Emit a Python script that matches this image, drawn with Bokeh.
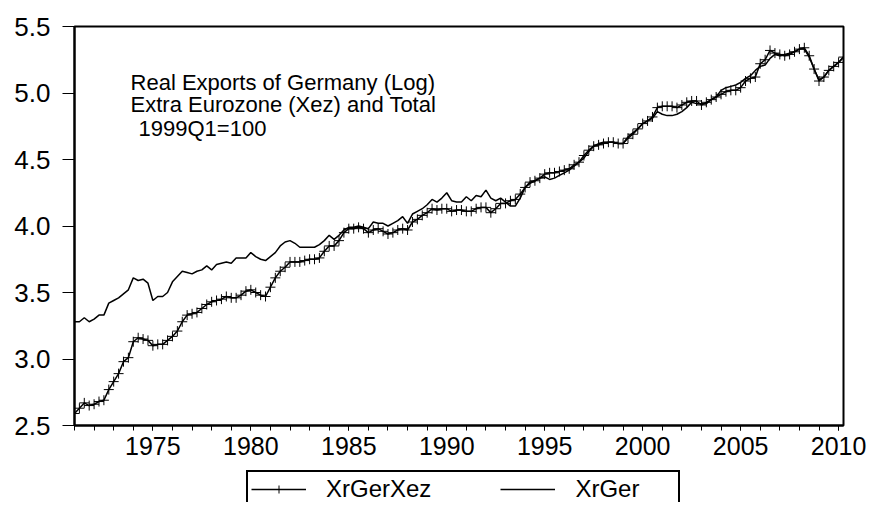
import numpy as np
from bokeh.plotting import figure
from bokeh.layouts import column
from bokeh.models import (Range1d, FixedTicker, Legend, LegendItem, Label,
                          NumeralTickFormatter, ColumnDataSource)
from bokeh.embed import file_html
from bokeh.resources import INLINE

# ---- data (quarterly, 1971Q1 .. 2010Q2) ----
start_year = 1971
quarters_per_year = 4

xr_ger_xez = [
    2.59, 2.63, 2.67, 2.65, 2.66, 2.68, 2.69, 2.77, 2.83, 2.89,
    2.98, 3.01, 3.13, 3.16, 3.15, 3.14, 3.10, 3.11, 3.11, 3.14,
    3.17, 3.21, 3.28, 3.33, 3.34, 3.35, 3.38, 3.41, 3.43, 3.44,
    3.45, 3.47, 3.46, 3.46, 3.48, 3.51, 3.52, 3.50, 3.48, 3.47,
    3.54, 3.61, 3.66, 3.69, 3.73, 3.73, 3.73, 3.74, 3.75, 3.75,
    3.76, 3.81, 3.85, 3.85, 3.89, 3.95, 3.98, 3.98, 3.99, 3.98,
    3.95, 3.97, 3.98, 3.96, 3.94, 3.95, 3.97, 3.98, 3.97, 4.03,
    4.05, 4.08, 4.10, 4.13, 4.12, 4.13, 4.13, 4.11, 4.12, 4.12,
    4.11, 4.11, 4.13, 4.14, 4.14, 4.10, 4.13, 4.17, 4.17, 4.19,
    4.20, 4.24, 4.29, 4.33, 4.34, 4.36, 4.39, 4.40, 4.40, 4.41,
    4.42, 4.43, 4.46, 4.48, 4.53, 4.57, 4.60, 4.61, 4.62, 4.63,
    4.63, 4.62, 4.62, 4.66, 4.69, 4.73, 4.77, 4.79, 4.82, 4.89,
    4.90, 4.90, 4.90, 4.89, 4.91, 4.93, 4.94, 4.94, 4.91, 4.93,
    4.95, 4.97, 4.99, 5.01, 5.02, 5.02, 5.04, 5.09, 5.11, 5.12,
    5.22, 5.25, 5.32, 5.30, 5.29, 5.28, 5.29, 5.31, 5.33, 5.34,
    5.28, 5.18, 5.09, 5.12, 5.17, 5.20, 5.23, 5.27,
]

xr_ger = [
    3.28, 3.28, 3.31, 3.28, 3.30, 3.33, 3.33, 3.42, 3.44, 3.46,
    3.49, 3.52, 3.61, 3.59, 3.60, 3.57, 3.44, 3.47, 3.47, 3.50,
    3.58, 3.62, 3.66, 3.65, 3.64, 3.66, 3.67, 3.70, 3.67, 3.71,
    3.72, 3.73, 3.72, 3.76, 3.76, 3.76, 3.80, 3.77, 3.75, 3.74,
    3.77, 3.80, 3.85, 3.88, 3.89, 3.87, 3.84, 3.84, 3.84, 3.84,
    3.86, 3.89, 3.93, 3.90, 3.93, 3.97, 3.99, 3.99, 4.00, 3.99,
    3.98, 4.03, 4.02, 4.02, 4.00, 4.02, 4.04, 4.07, 4.02, 4.09,
    4.11, 4.13, 4.16, 4.20, 4.18, 4.21, 4.25, 4.19, 4.18, 4.18,
    4.22, 4.19, 4.23, 4.22, 4.27, 4.21, 4.19, 4.21, 4.18, 4.15,
    4.15, 4.21, 4.29, 4.32, 4.34, 4.36, 4.37, 4.35, 4.36, 4.38,
    4.40, 4.42, 4.45, 4.48, 4.51, 4.56, 4.60, 4.62, 4.63, 4.63,
    4.63, 4.62, 4.62, 4.67, 4.70, 4.73, 4.77, 4.79, 4.81, 4.86,
    4.84, 4.83, 4.83, 4.84, 4.86, 4.89, 4.93, 4.92, 4.92, 4.92,
    4.95, 4.97, 5.02, 5.04, 5.05, 5.06, 5.08, 5.11, 5.13, 5.17,
    5.20, 5.21, 5.26, 5.29, 5.28, 5.29, 5.30, 5.31, 5.33, 5.33,
    5.27, 5.18, 5.10, 5.12, 5.17, 5.20, 5.23, 5.27,
]

x_major_ticks = [1975, 1980, 1985, 1990, 1995, 2000, 2005, 2010]
x_minor_ticks = list(range(1971, 2011))
y_ticks = [2.5, 3.0, 3.5, 4.0, 4.5, 5.0, 5.5]
series_names = ["XrGerXez", "XrGer"]
title_lines = ["Real Exports of Germany (Log)",
               "Extra Eurozone (Xez) and Total",
               "1999Q1=100"]

t = start_year + np.arange(len(xr_ger)) / quarters_per_year
src = ColumnDataSource(dict(t=t, xez=xr_ger_xez, ger=xr_ger))

FONT = "Liberation Sans"

p = figure(width=867, height=470, output_backend="svg", toolbar_location=None,
           x_range=Range1d(1971, 2010.25), y_range=Range1d(2.5, 5.5),
           min_border_left=74, min_border_right=24, min_border_top=26,
           min_border_bottom=45)
p.background_fill_color = "white"
p.border_fill_color = "white"
p.outline_line_color = "black"
p.outline_line_width = 2
p.xgrid.visible = False
p.ygrid.visible = False

# axes
xa = p.xaxis[0]
xa.ticker = FixedTicker(ticks=x_major_ticks, minor_ticks=x_minor_ticks)
xa.axis_line_width = 2
xa.axis_line_color = "black"
xa.major_tick_in = 0
xa.major_tick_out = 5
xa.minor_tick_in = 0
xa.minor_tick_out = 5
xa.major_tick_line_color = "black"
xa.minor_tick_line_color = "black"
xa.major_label_text_font = FONT
xa.major_label_text_font_size = "25px"
xa.major_label_text_color = "black"
xa.major_label_standoff = 6

ya = p.yaxis[0]
ya.ticker = FixedTicker(ticks=y_ticks, minor_ticks=[])
ya.formatter = NumeralTickFormatter(format="0.0")
ya.axis_line_width = 2
ya.axis_line_color = "black"
ya.major_tick_in = 0
ya.major_tick_out = 12
ya.minor_tick_in = 0
ya.minor_tick_out = 0
ya.major_tick_line_color = "black"
ya.major_label_text_font = FONT
ya.major_label_text_font_size = "26px"
ya.major_label_text_color = "black"
ya.major_label_standoff = 12

# series
p.line("t", "xez", source=src, line_color="black", line_width=1.5)
p.scatter("t", "xez", source=src, marker="cross", size=10,
          line_color="black", line_width=1)
p.line("t", "ger", source=src, line_color="black", line_width=1.5)

# in-plot title text
title_y = [5.079, 4.914, 4.733]
for i, (txt, yy) in enumerate(zip(title_lines, title_y)):
    p.add_layout(Label(x=1973.86, y=yy, text=txt, text_font=FONT,
                       text_font_size="22px", text_color="black",
                       text_baseline="alphabetic",
                       x_offset=(8 if i == 2 else 0)))

# ---- legend strip below the chart (series drawn out of view as legend proxies) ----
lg = figure(width=867, height=32, output_backend="svg", toolbar_location=None,
            x_axis_type=None, y_axis_type=None, min_border=0,
            x_range=Range1d(0, 1), y_range=Range1d(0, 1))
lg.outline_line_color = None
lg.background_fill_color = "white"
lg.border_fill_color = "white"
k_line = lg.line("t", "xez", source=src, line_color="black", line_width=1.5)
k_mark = lg.scatter("t", "xez", source=src, marker="cross", size=10,
                    line_color="black", line_width=1)
k_ger = lg.line("t", "ger", source=src, line_color="black", line_width=1.5)

legend = Legend(items=[LegendItem(label=series_names[0], renderers=[k_line, k_mark]),
                       LegendItem(label=series_names[1], renderers=[k_ger])],
                orientation="horizontal", location=(172, -6))
legend.label_text_font = FONT
legend.label_text_font_size = "24px"
legend.label_text_color = "black"
legend.border_line_color = "black"
legend.border_line_width = 2
legend.border_line_alpha = 1
legend.background_fill_color = "white"
legend.background_fill_alpha = 1
legend.padding = 3
legend.spacing = 69
legend.glyph_width = 55
legend.label_standoff = 20
legend.label_width = 100
legend.margin = 0
lg.add_layout(legend, "center")

layout = column(p, lg, spacing=0)
open("out.html", "w").write(file_html(layout, INLINE))
